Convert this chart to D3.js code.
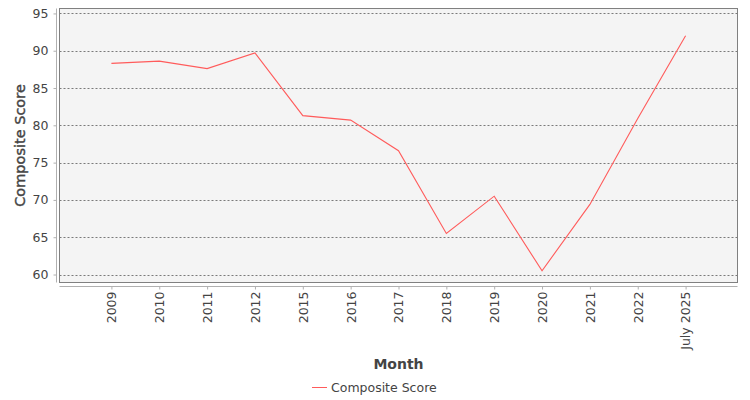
<!DOCTYPE html>
<html>
<head>
<meta charset="utf-8">
<script src="https://cdn.jsdelivr.net/npm/d3@7"></script>
<style>
  body { margin: 0; background: #fff; }
  svg { display: block; font-family: "DejaVu Sans", sans-serif; }
</style>
</head>
<body>
<div id="chart"></div>
<script>
const months = ['2009', '2010', '2011', '2012', '2015', '2016', '2017', '2018', '2019', '2020', '2021', '2022', 'July 2025'];
const scores = [88.3, 88.6, 87.6, 89.7, 81.3, 80.7, 76.6, 65.5, 70.5, 60.5, 69.4, 80.9, 92.0];
const yTicks = [60, 65, 70, 75, 80, 85, 90, 95];
const seriesName = 'Composite Score';

const width = 750;
const height = 400;
const plotLeft = 59.5;
const plotRight = 737.5;
const plotTop = 8.5;
const plotBottom = 282.5;

const svg = d3.select('#chart').append('svg')
  .attr('width', width)
  .attr('height', height);

const x = d3.scalePoint()
  .domain(months)
  .range([plotLeft, plotRight])
  .padding(1.085);

const y = d3.scaleLinear()
  .domain([58.93, 95.66])
  .range([plotBottom, plotTop]);

// plot background
svg.append('rect')
  .attr('x', plotLeft)
  .attr('y', plotTop)
  .attr('width', plotRight - plotLeft)
  .attr('height', plotBottom - plotTop)
  .attr('fill', '#f4f4f4');

// gridlines
svg.append('g').selectAll('line')
  .data(yTicks)
  .join('line')
    .attr('x1', plotLeft)
    .attr('x2', plotRight)
    .attr('y1', (d) => Math.round(y(d)) + 0.5)
    .attr('y2', (d) => Math.round(y(d)) + 0.5)
    .attr('stroke', '#7a7a7a')
    .attr('stroke-dasharray', '2,2');

// plot border
svg.append('rect')
  .attr('x', plotLeft)
  .attr('y', plotTop)
  .attr('width', plotRight - plotLeft)
  .attr('height', plotBottom - plotTop)
  .attr('fill', 'none')
  .attr('stroke', '#808080');

// y axis
const axisY = svg.append('g')
  .attr('transform', 'translate(56.5, 0)')
  .call(d3.axisLeft(y).tickValues(yTicks).tickSize(3).tickPadding(5))
  .call((g) => g.select('.domain').attr('d', `M0,${plotTop}V${plotBottom}`));

// x axis
const axisX = svg.append('g')
  .attr('transform', 'translate(0, 286.5)')
  .call(d3.axisBottom(x).tickSize(3).tickSizeOuter(0))
  .call((g) => g.select('.domain').attr('d', `M${plotLeft},0H${plotRight}`));

axisX.selectAll('text')
  .attr('transform', 'rotate(-90)')
  .attr('text-anchor', 'end')
  .attr('x', -5)
  .attr('y', 0)
  .attr('dy', '0.35em');

[axisX, axisY].forEach((g) => {
  g.selectAll('.domain, .tick line').attr('stroke', '#b0b0b0');
  g.selectAll('text')
    .attr('fill', '#444')
    .attr('font-size', 12.5)
    .attr('font-family', '"DejaVu Sans", sans-serif');
});

// line
svg.append('path')
  .datum(scores)
  .attr('fill', 'none')
  .attr('stroke', '#ff5b5b')
  .attr('stroke-width', 1.1)
  .attr('d', d3.line()
    .x((d, i) => x(months[i]))
    .y((d) => y(d)));

// axis titles
svg.append('text')
  .attr('transform', `translate(20, ${(plotTop + plotBottom) / 2}) rotate(-90)`)
  .attr('text-anchor', 'middle')
  .attr('dy', '0.35em')
  .attr('font-size', 14.5)
  .attr('fill', '#444')
  .attr('stroke', '#444')
  .attr('stroke-width', 0.4)
  .text('Composite Score');

svg.append('text')
  .attr('x', (plotLeft + plotRight) / 2)
  .attr('y', 364)
  .attr('text-anchor', 'middle')
  .attr('dy', '0.35em')
  .attr('font-size', 14)
  .attr('font-weight', 'bold')
  .attr('fill', '#444')
  .text('Month');

// legend
const legend = svg.append('g').attr('transform', 'translate(312, 387.5)');
legend.append('line')
  .attr('x1', 0)
  .attr('x2', 15)
  .attr('stroke', '#ff5b5b');
legend.append('text')
  .attr('x', 19)
  .attr('dy', '0.35em')
  .attr('font-size', 12.5)
  .attr('fill', '#444')
  .text(seriesName);
</script>
</body>
</html>
